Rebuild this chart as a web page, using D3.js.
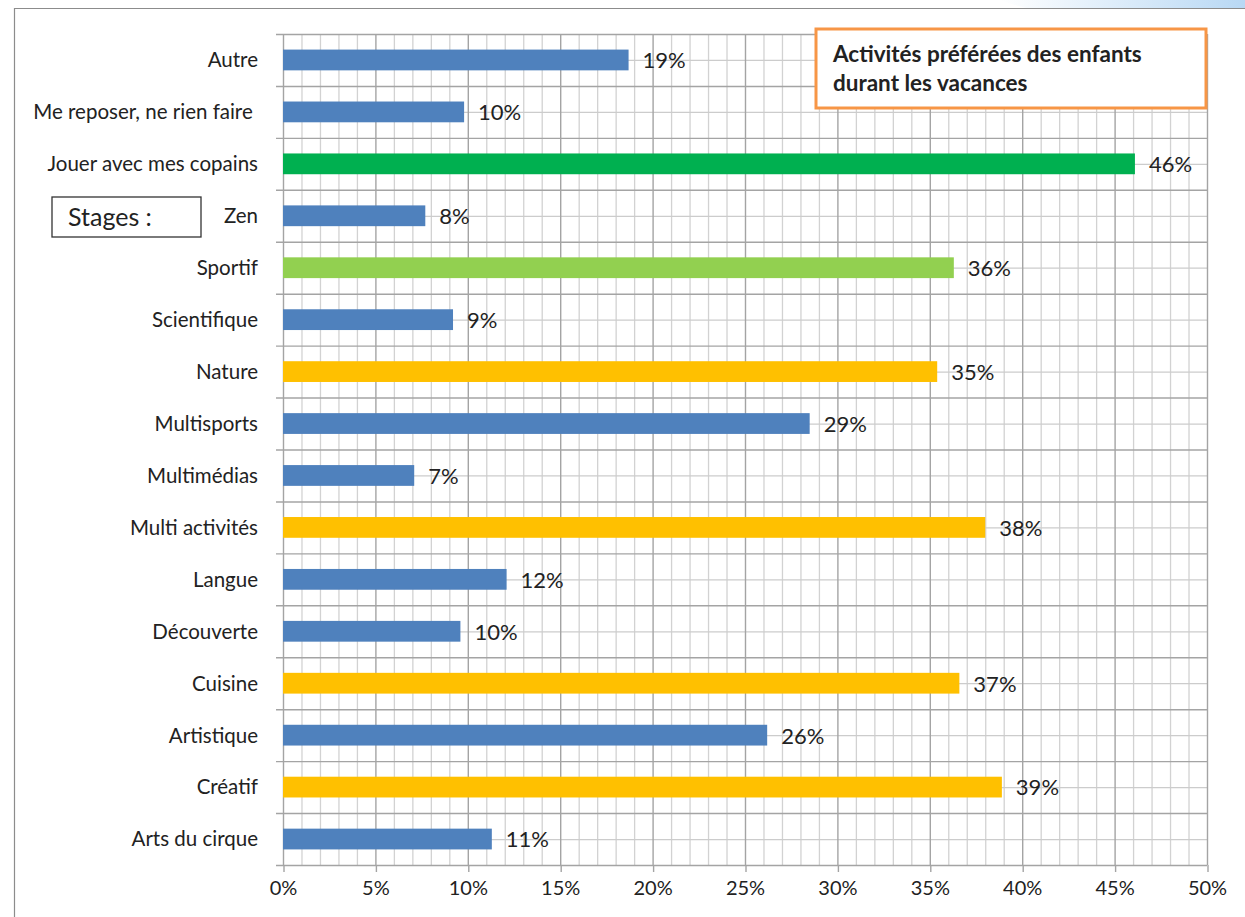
<!DOCTYPE html>
<html>
<head>
<meta charset="utf-8">
<script src="https://cdn.jsdelivr.net/npm/d3@7"></script>
<style>
	body { margin: 0; background: #fff; }
	svg text { font-family: Lato, "Open Sans", sans-serif; fill: #222; }
</style>
</head>
<body>
<div id="chart"></div>
<script>
// categories, top to bottom
let categories = ['Autre', 'Me reposer, ne rien faire ', 'Jouer avec mes copains', 'Zen', 'Sportif',
	'Scientifique', 'Nature', 'Multisports', 'Multimédias', 'Multi activités', 'Langue',
	'Découverte', 'Cuisine', 'Artistique', 'Créatif', 'Arts du cirque'];

// share of children (%)
let values = [18.7, 9.8, 46.1, 7.7, 36.3, 9.2, 35.4, 28.5, 7.1, 38.0, 12.1, 9.6, 36.6, 26.2, 38.9, 11.3];

let barColors = ['#4F81BD', '#4F81BD', '#00B050', '#4F81BD', '#92D050', '#4F81BD', '#FFC000', '#4F81BD',
	'#4F81BD', '#FFC000', '#4F81BD', '#4F81BD', '#FFC000', '#4F81BD', '#FFC000', '#4F81BD'];

let xTicks = [0, 5, 10, 15, 20, 25, 30, 35, 40, 45, 50];
let titleLines = ['Activités préférées des enfants', 'durant les vacances'];
let stagesLabel = 'Stages :';

let full_width = 1245,
	full_height = 917,
	margins = {top: 34, right: 38, bottom: 52, left: 283},
	width = full_width - margins.left - margins.right,
	height = full_height - margins.top - margins.bottom;

let svg = d3.select('#chart')
	.append('svg')
	.attr('width', full_width)
	.attr('height', full_height);

// light blue glow in the top right corner
let glow = svg.append('defs').append('linearGradient')
	.attr('id', 'glow')
	.attr('x1', '0%').attr('y1', '0%').attr('x2', '100%').attr('y2', '0%');
glow.append('stop').attr('offset', '0%').attr('stop-color', '#ffffff');
glow.append('stop').attr('offset', '100%').attr('stop-color', '#b8d8f4');
svg.append('path')
	.attr('d', 'M1000,0 L1245,0 L1245,9 L1030,9 Q1010,4 1000,0 Z')
	.attr('fill', 'url(#glow)');

// outer frame (left and top only, the rest is cut off)
svg.append('path')
	.attr('d', 'M14.5,917 L14.5,8.5 L1245,8.5')
	.attr('fill', 'none')
	.attr('stroke', '#8c8c8c')
	.attr('stroke-width', 1.2);

let x = d3.scaleLinear()
	.domain([0, 50])
	.range([0, width]);

let y = d3.scaleBand()
	.domain(categories)
	.range([0, height])
	.paddingInner(0.6)
	.paddingOuter(0.3);

let step = y.step();

let g = svg.append('g')
	.attr('transform', 'translate(' + margins.left + ',' + margins.top + ')');

// minor vertical grid (every 1%)
g.append('g').selectAll('line')
	.data(d3.range(1, 50).filter(function(d) { return d % 5 !== 0; }))
	.join('line')
	.attr('x1', function(d) { return x(d) + 0.5; })
	.attr('x2', function(d) { return x(d) + 0.5; })
	.attr('y1', 0)
	.attr('y2', height)
	.attr('stroke', '#d2d2d2')
	.attr('stroke-width', 1.3);

// minor horizontal grid (category centres)
g.append('g').selectAll('line')
	.data(categories)
	.join('line')
	.attr('x1', 0)
	.attr('x2', width)
	.attr('y1', function(d) { return y(d) + y.bandwidth() / 2 + 0.5; })
	.attr('y2', function(d) { return y(d) + y.bandwidth() / 2 + 0.5; })
	.attr('stroke', '#cccccc')
	.attr('stroke-width', 1.3);

// major vertical grid (every 5%)
g.append('g').selectAll('line')
	.data(xTicks)
	.join('line')
	.attr('x1', function(d) { return x(d) + 0.5; })
	.attr('x2', function(d) { return x(d) + 0.5; })
	.attr('y1', 0)
	.attr('y2', height)
	.attr('stroke', '#a4a4a4')
	.attr('stroke-width', 1.4);

// major horizontal grid (category boundaries) with small ticks on the left
g.append('g').selectAll('line')
	.data(d3.range(0, categories.length + 1))
	.join('line')
	.attr('x1', -7)
	.attr('x2', width)
	.attr('y1', function(i) { return i * step + 0.5; })
	.attr('y2', function(i) { return i * step + 0.5; })
	.attr('stroke', '#a4a4a4')
	.attr('stroke-width', 1.4);

// bars
g.append('g').selectAll('rect')
	.data(values)
	.join('rect')
	.attr('x', x(0))
	.attr('y', function(d, i) { return y(categories[i]); })
	.attr('width', function(d) { return x(d) - x(0); })
	.attr('height', y.bandwidth())
	.attr('fill', function(d, i) { return barColors[i]; });

// value labels
g.append('g').selectAll('text')
	.data(values)
	.join('text')
	.attr('x', function(d) { return x(d) + 14; })
	.attr('y', function(d, i) { return y(categories[i]) + y.bandwidth() / 2; })
	.attr('dy', '0.38em')
	.style('font-size', '22px')
	.text(function(d) { return Math.round(d) + '%'; });

// category labels
g.append('g').selectAll('text')
	.data(categories)
	.join('text')
	.attr('x', -25)
	.attr('y', function(d) { return y(d) + y.bandwidth() / 2; })
	.attr('dy', '0.36em')
	.attr('text-anchor', 'end')
	.style('font-size', '20.5px')
	.style('white-space', 'pre')
	.text(function(d) { return d; });

// x axis
let xAxis = g.append('g')
	.attr('transform', 'translate(0,' + height + ')')
	.call(d3.axisBottom(x)
		.tickValues(xTicks)
		.tickSize(7)
		.tickPadding(9)
		.tickFormat(function(d) { return d + '%'; }));

xAxis.select('.domain').remove();
xAxis.selectAll('line').attr('stroke', '#a4a4a4').attr('stroke-width', 1.4).attr('transform', 'translate(0.5,0)');
xAxis.selectAll('text').style('font-size', '20px').attr('fill', '#222');

// title box
let titleBox = svg.append('g').attr('transform', 'translate(816,29)');
titleBox.append('rect')
	.attr('width', 390)
	.attr('height', 79)
	.attr('fill', '#fff')
	.attr('stroke', '#F79646')
	.attr('stroke-width', 3);
titleBox.selectAll('text')
	.data(titleLines)
	.join('text')
	.attr('x', 17)
	.attr('y', function(d, i) { return 33 + i * 29; })
	.style('font-size', '22.5px')
	.style('font-weight', 'bold')
	.text(function(d) { return d; });

// "Stages :" box
let stages = svg.append('g').attr('transform', 'translate(52,197)');
stages.append('rect')
	.attr('width', 149)
	.attr('height', 40)
	.attr('fill', '#fff')
	.attr('stroke', '#333')
	.attr('stroke-width', 1.3);
stages.append('text')
	.attr('x', 16)
	.attr('y', 29)
	.style('font-size', '25px')
	.text(stagesLabel);
</script>
</body>
</html>
